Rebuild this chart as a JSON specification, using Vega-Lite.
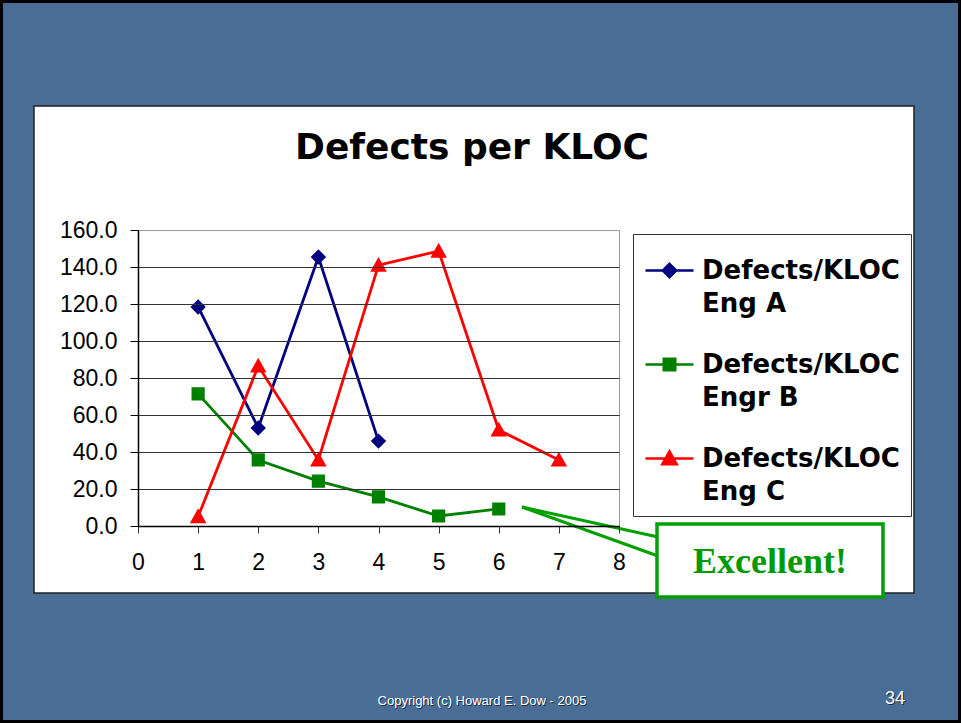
{
  "$schema": "https://vega.github.io/schema/vega-lite/v6.json",
  "width": 481,
  "height": 296,
  "autosize": {"type": "none"},
  "padding": {"left": 138, "top": 230, "right": 342, "bottom": 197},
  "background": "#4a6d96",
  "config": {
    "view": {"stroke": null},
    "axisY": {"tickCount": 8, "labelOverlap": false, "grid": true,
      "domainColor": "#000000", "domainWidth": 1.5, "tickColor": "#000000", "tickSize": 8, "labelPadding": 13,
      "labelFont": "Liberation Sans", "labelFontSize": 23, "labelColor": "#000000", "labelFlush": false},
    "axisX": {"tickCount": 8, "labelOverlap": false, "grid": true,
      "domainColor": "#000000", "domainWidth": 1.5, "tickColor": "#333333", "tickSize": 7, "labelPadding": 18,
      "labelFont": "Liberation Sans", "labelFontSize": 23, "labelColor": "#000000", "labelFlush": false}
  },
  "data": {"values": [
    {"x": 1, "v": 118.4, "series": "Defects/KLOC Eng A"},
    {"x": 2, "v": 53.0, "series": "Defects/KLOC Eng A"},
    {"x": 3, "v": 145.4, "series": "Defects/KLOC Eng A"},
    {"x": 4, "v": 45.9, "series": "Defects/KLOC Eng A"},
    {"x": 1, "v": 71.4, "series": "Defects/KLOC Engr B"},
    {"x": 2, "v": 35.7, "series": "Defects/KLOC Engr B"},
    {"x": 3, "v": 24.3, "series": "Defects/KLOC Engr B"},
    {"x": 4, "v": 15.7, "series": "Defects/KLOC Engr B"},
    {"x": 5, "v": 5.4, "series": "Defects/KLOC Engr B"},
    {"x": 6, "v": 9.2, "series": "Defects/KLOC Engr B"},
    {"x": 1, "v": 5.1, "series": "Defects/KLOC Eng C"},
    {"x": 2, "v": 86.5, "series": "Defects/KLOC Eng C"},
    {"x": 3, "v": 35.7, "series": "Defects/KLOC Eng C"},
    {"x": 4, "v": 141.0, "series": "Defects/KLOC Eng C"},
    {"x": 5, "v": 148.6, "series": "Defects/KLOC Eng C"},
    {"x": 6, "v": 51.9, "series": "Defects/KLOC Eng C"},
    {"x": 7, "v": 35.7, "series": "Defects/KLOC Eng C"}
  ]},
  "layer": [
    {
      "data": {"values": [{}]},
      "mark": {"type": "rect", "fill": null, "stroke": "#000000", "strokeWidth": 6},
      "encoding": {
        "x": {"datum": -2.295, "type": "quantitative"},
        "x2": {"datum": 13.689},
        "y": {"datum": 284.3, "type": "quantitative"},
        "y2": {"datum": -106.5}
      }
    },
    {
      "data": {"values": [{}]},
      "mark": {"type": "rect", "fill": "#ffffff", "stroke": "#222222", "strokeWidth": 1.5},
      "encoding": {
        "x": {"datum": -1.73, "type": "quantitative"},
        "x2": {"datum": 12.906},
        "y": {"datum": 227.0, "type": "quantitative"},
        "y2": {"datum": -36.2}
      }
    },
    {
      "data": {"values": [{}]},
      "mark": {"type": "text", "font": "DejaVu Sans", "fontWeight": "bold", "fontSize": 36, "align": "center", "baseline": "alphabetic", "color": "#000000"},
      "encoding": {
        "x": {"datum": 5.555, "type": "quantitative"},
        "y": {"datum": 198.4, "type": "quantitative"},
        "text": {"value": "Defects per KLOC"}
      }
    },
    {
      "mark": {"type": "line", "strokeWidth": 2.8},
      "encoding": {
        "x": {"field": "x", "type": "quantitative", "title": null,
          "scale": {"domain": [0, 8], "nice": false, "zero": false},
          "axis": {"format": "d", "tickCount": 8, "zindex": 1, "grid": true, "labelOverlap": false,
            "gridColor": {"condition": {"test": "datum.value === 8", "value": "#999999"}, "value": "transparent"}}},
        "y": {"field": "v", "type": "quantitative", "title": null,
          "scale": {"domain": [0, 160], "nice": false, "zero": false},
          "axis": {"format": ".1f", "tickCount": 8, "zindex": 1, "grid": true, "labelOverlap": false,
            "gridColor": {"condition": {"test": "datum.value === 160", "value": "#999999"}, "value": "#333333"}}},
        "color": {"field": "series", "type": "nominal",
          "scale": {"domain": ["Defects/KLOC Eng A", "Defects/KLOC Engr B", "Defects/KLOC Eng C"], "range": ["#000080", "#008000", "#ff0000"]},
          "legend": {"title": null, "orient": "none", "legendX": 495, "legendY": 4, "padding": 11,
            "strokeColor": "#333333", "fillColor": "#ffffff", "symbolSize": 2304,
            "labelFont": "DejaVu Sans", "labelFontSize": 26, "labelFontWeight": "bold", "labelColor": "#000000",
            "labelOffset": 7, "labelLimit": 400, "rowPadding": 22, "labelBaseline": "middle",
            "labelExpr": "[slice(datum.label, 0, 12), slice(datum.label, 13)]",
            "encode": {
              "symbols": {"update": {"stroke": {"scale": "color", "field": "value"}, "strokeWidth": {"value": 2.5}, "fill": {"scale": "color", "field": "value"}, "shape": {"scale": "shape", "field": "value"}, "size": {"value": 2304}}},
              "labels": {"update": {"lineHeight": {"value": 33}, "dy": {"value": 0}}}
            }}},
        "detail": {"field": "series"}
      }
    },
    {
      "mark": {"type": "point", "filled": true, "size": 3025, "opacity": 1, "strokeWidth": 0},
      "encoding": {
        "x": {"field": "x", "type": "quantitative"},
        "y": {"field": "v", "type": "quantitative"},
        "color": {"field": "series", "type": "nominal",
          "legend": {"title": null, "orient": "none", "legendX": 495, "legendY": 4, "padding": 11,
            "strokeColor": "#333333", "fillColor": "#ffffff", "symbolSize": 2304,
            "labelFont": "DejaVu Sans", "labelFontSize": 26, "labelFontWeight": "bold", "labelColor": "#000000",
            "labelOffset": 7, "labelLimit": 400, "rowPadding": 22, "labelBaseline": "middle",
            "labelExpr": "[slice(datum.label, 0, 12), slice(datum.label, 13)]",
            "encode": {
              "symbols": {"update": {"stroke": {"scale": "color", "field": "value"}, "strokeWidth": {"value": 2.5}, "fill": {"scale": "color", "field": "value"}, "shape": {"scale": "shape", "field": "value"}, "size": {"value": 2304}}},
              "labels": {"update": {"lineHeight": {"value": 33}, "dy": {"value": 0}}}
            }}},
        "shape": {"field": "series", "type": "nominal",
          "scale": {"domain": ["Defects/KLOC Eng A", "Defects/KLOC Engr B", "Defects/KLOC Eng C"],
            "range": ["M-1,0H1M0,-0.28L0.28,0L0,0.28L-0.28,0Z", "M-1,0H1M-0.24,-0.24H0.24V0.24H-0.24Z", "M-1,0H1M0,-0.3L0.3,0.24L-0.3,0.24Z"]},
          "legend": {"title": null, "orient": "none", "legendX": 495, "legendY": 4, "padding": 11,
            "strokeColor": "#333333", "fillColor": "#ffffff", "symbolSize": 2304,
            "labelFont": "DejaVu Sans", "labelFontSize": 26, "labelFontWeight": "bold", "labelColor": "#000000",
            "labelOffset": 7, "labelLimit": 400, "rowPadding": 22, "labelBaseline": "middle",
            "labelExpr": "[slice(datum.label, 0, 12), slice(datum.label, 13)]",
            "encode": {
              "symbols": {"update": {"stroke": {"scale": "color", "field": "value"}, "strokeWidth": {"value": 2.5}, "fill": {"scale": "color", "field": "value"}, "shape": {"scale": "shape", "field": "value"}, "size": {"value": 2304}}},
              "labels": {"update": {"lineHeight": {"value": 33}, "dy": {"value": 0}}}
            }}}
      }
    },
    {
      "data": {"values": [{}]},
      "mark": {"type": "rule", "stroke": "#00a000", "strokeWidth": 3},
      "encoding": {
        "x": {"datum": 6.387, "type": "quantitative"},
        "y": {"datum": 10.27, "type": "quantitative"},
        "x2": {"datum": 8.649},
        "y2": {"datum": -5.95}
      }
    },
    {
      "data": {"values": [{}]},
      "mark": {"type": "rule", "stroke": "#00a000", "strokeWidth": 3},
      "encoding": {
        "x": {"datum": 6.387, "type": "quantitative"},
        "y": {"datum": 10.27, "type": "quantitative"},
        "x2": {"datum": 8.649},
        "y2": {"datum": -16.2}
      }
    },
    {
      "data": {"values": [{}]},
      "mark": {"type": "rect", "fill": "#ffffff", "stroke": "#00a000", "strokeWidth": 3.5},
      "encoding": {
        "x": {"datum": 8.632, "type": "quantitative"},
        "x2": {"datum": 12.391},
        "y": {"datum": 1.08, "type": "quantitative"},
        "y2": {"datum": -38.38}
      }
    },
    {
      "data": {"values": [{}]},
      "mark": {"type": "text", "font": "Liberation Serif", "fontWeight": "bold", "fontSize": 36, "align": "center", "baseline": "alphabetic", "color": "#009900"},
      "encoding": {
        "x": {"datum": 10.511, "type": "quantitative"},
        "y": {"datum": -25.4, "type": "quantitative"},
        "text": {"value": "Excellent!"}
      }
    },
    {
      "data": {"values": [{}]},
      "mark": {"type": "text", "font": "Liberation Sans", "fontSize": 13, "align": "center", "baseline": "alphabetic", "color": "#1e2f45", "dx": 1, "dy": 1},
      "encoding": {
        "x": {"datum": 5.721, "type": "quantitative"},
        "y": {"datum": -96.76, "type": "quantitative"},
        "text": {"value": "Copyright (c) Howard E. Dow - 2005"}
      }
    },
    {
      "data": {"values": [{}]},
      "mark": {"type": "text", "font": "Liberation Sans", "fontSize": 13, "align": "center", "baseline": "alphabetic", "color": "#ffffff"},
      "encoding": {
        "x": {"datum": 5.721, "type": "quantitative"},
        "y": {"datum": -96.76, "type": "quantitative"},
        "text": {"value": "Copyright (c) Howard E. Dow - 2005"}
      }
    },
    {
      "data": {"values": [{}]},
      "mark": {"type": "text", "font": "Liberation Sans", "fontSize": 18, "align": "center", "baseline": "alphabetic", "color": "#1e2f45", "dx": 1, "dy": 1},
      "encoding": {
        "x": {"datum": 12.59, "type": "quantitative"},
        "y": {"datum": -96.2, "type": "quantitative"},
        "text": {"value": "34"}
      }
    },
    {
      "data": {"values": [{}]},
      "mark": {"type": "text", "font": "Liberation Sans", "fontSize": 18, "align": "center", "baseline": "alphabetic", "color": "#ffffff"},
      "encoding": {
        "x": {"datum": 12.59, "type": "quantitative"},
        "y": {"datum": -96.2, "type": "quantitative"},
        "text": {"value": "34"}
      }
    }
  ]
}
